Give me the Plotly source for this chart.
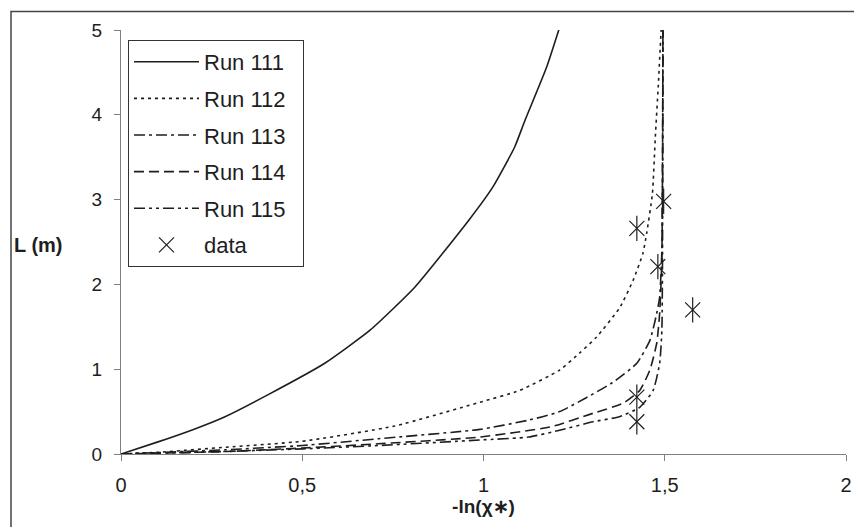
import plotly.graph_objects as go

# ---- data ----
run111_x = [0, 0.10, 0.20, 0.287, 0.406, 0.562, 0.687, 0.811, 0.96, 1.026, 1.086, 1.114, 1.174, 1.215]
run111_y = [0, 0.14, 0.29, 0.44, 0.70, 1.07, 1.46, 1.97, 2.76, 3.15, 3.62, 3.93, 4.56, 5.1]

run112_x = [0, 0.10, 0.29, 0.50, 0.755, 0.99, 1.10, 1.21, 1.265, 1.312, 1.375, 1.413, 1.44, 1.45, 1.466, 1.474, 1.482, 1.49]
run112_y = [0, 0.02, 0.08, 0.15, 0.33, 0.61, 0.75, 0.99, 1.19, 1.38, 1.72, 2.05, 2.37, 2.60, 3.07, 3.74, 4.33, 5.0]

run113_x = [0, 0.29, 0.50, 0.71, 0.99, 1.125, 1.21, 1.355, 1.423, 1.459, 1.478, 1.486, 1.492, 1.495]
run113_y = [0, 0.05, 0.10, 0.18, 0.29, 0.40, 0.50, 0.84, 1.07, 1.34, 1.66, 1.85, 2.40, 5.0]

run114_x = [0, 0.29, 0.50, 0.71, 0.99, 1.185, 1.302, 1.386, 1.431, 1.459, 1.478, 1.486, 1.492, 1.495]
run114_y = [0, 0.03, 0.07, 0.12, 0.20, 0.32, 0.48, 0.60, 0.75, 0.99, 1.31, 1.66, 2.30, 5.0]

run115_x = [0, 0.29, 0.50, 0.71, 0.99, 1.125, 1.21, 1.302, 1.375, 1.431, 1.468, 1.486, 1.492, 1.495]
run115_y = [0, 0.03, 0.06, 0.10, 0.165, 0.20, 0.28, 0.38, 0.44, 0.55, 0.75, 1.07, 1.46, 5.0]

data_x = [1.423, 1.497, 1.481, 1.577, 1.423, 1.423]
data_y = [2.66, 2.98, 2.21, 1.70, 0.67, 0.38]

x_ticks = [0, 0.5, 1, 1.5, 2]
x_tick_labels = ["0", "0,5", "1", "1,5", "2"]
y_ticks = [0, 1, 2, 3, 4, 5]

# ---- figure ----
W, H = 854, 527
L, R, T, B = 121, 8, 30, 73
pw, ph = W - L - R, H - T - B

ink = "#1e1e1e"
pad = "\u00a0\u00a0"
fig = go.Figure()

runs = [
    ("Run 111", run111_x, run111_y, "solid"),
    ("Run 112", run112_x, run112_y, "3px,4px"),
    ("Run 113", run113_x, run113_y, "11px,4px,3px,4px"),
    ("Run 114", run114_x, run114_y, "10px,5px"),
    ("Run 115", run115_x, run115_y, "11px,4px,3px,4px,3px,4px"),
]
for name, xs, ys, dash in runs:
    fig.add_trace(go.Scatter(x=xs, y=ys, mode="lines", name=name + pad, legendgroup=name,
                             line=dict(color=ink, width=1.6, dash=dash, shape="spline", smoothing=0.5)))

fig.add_trace(go.Scatter(x=data_x, y=data_y, mode="markers", name="data", legendgroup="data",
                         marker=dict(symbol="x-thin-open", size=15, color=ink,
                                     line=dict(width=1.2, color=ink))))
fig.add_trace(go.Scatter(x=data_x, y=data_y, mode="markers", showlegend=False, legendgroup="data",
                         marker=dict(symbol="line-ns-open", size=18, color=ink,
                                     line=dict(width=1.2, color=ink))))

def px_x(p):
    return (p - L) / pw

def px_y(p):
    return (H - B - p) / ph

# outer chart border
fig.add_shape(type="rect", xref="paper", yref="paper",
              x0=px_x(11), x1=px_x(870), y0=px_y(540), y1=px_y(11.5),
              line=dict(color="#444", width=1.5), layer="below")

fig.add_annotation(text="<b>L (m)</b>", xref="paper", yref="paper",
                   x=px_x(12), y=px_y(245), xanchor="left", yanchor="middle",
                   showarrow=False, font=dict(size=20, color=ink,
                                              family="Liberation Sans, Arial, sans-serif"))

fig.update_layout(
    width=W, height=H,
    margin=dict(l=L, r=R, t=T, b=B, autoexpand=False),
    paper_bgcolor="white", plot_bgcolor="white",
    font=dict(family="Liberation Sans, Arial, sans-serif", color=ink),
    xaxis=dict(range=[0, 2], tickvals=x_ticks, ticktext=x_tick_labels, automargin=False,
               showgrid=False, zeroline=False, showline=True, linecolor="#808080", linewidth=1,
               ticks="outside", ticklen=6, tickcolor="#808080", ticklabelstandoff=7,
               tickfont=dict(size=20, family="Liberation Sans Narrow, Arial Narrow, Liberation Sans, Arial"),
               title=dict(text="<b>-ln(χ∗)</b>", font=dict(size=19), standoff=2)),
    yaxis=dict(range=[0, 5], tickvals=y_ticks, automargin=False,
               showgrid=False, zeroline=False, showline=True, linecolor="#808080", linewidth=1,
               ticks="outside", ticklen=6, tickcolor="#808080", ticklabelstandoff=8,
               tickfont=dict(size=19)),
    legend=dict(x=px_x(128), y=px_y(40), xanchor="left", yanchor="top",
                bordercolor="#333", borderwidth=1, bgcolor="white",
                font=dict(size=22, color=ink), itemwidth=65, tracegroupgap=5),
    showlegend=True,
)

fig.write_html("out.html", config={"displayModeBar": False},
               post_script="document.body.style.margin='0';document.body.style.padding='0';")
